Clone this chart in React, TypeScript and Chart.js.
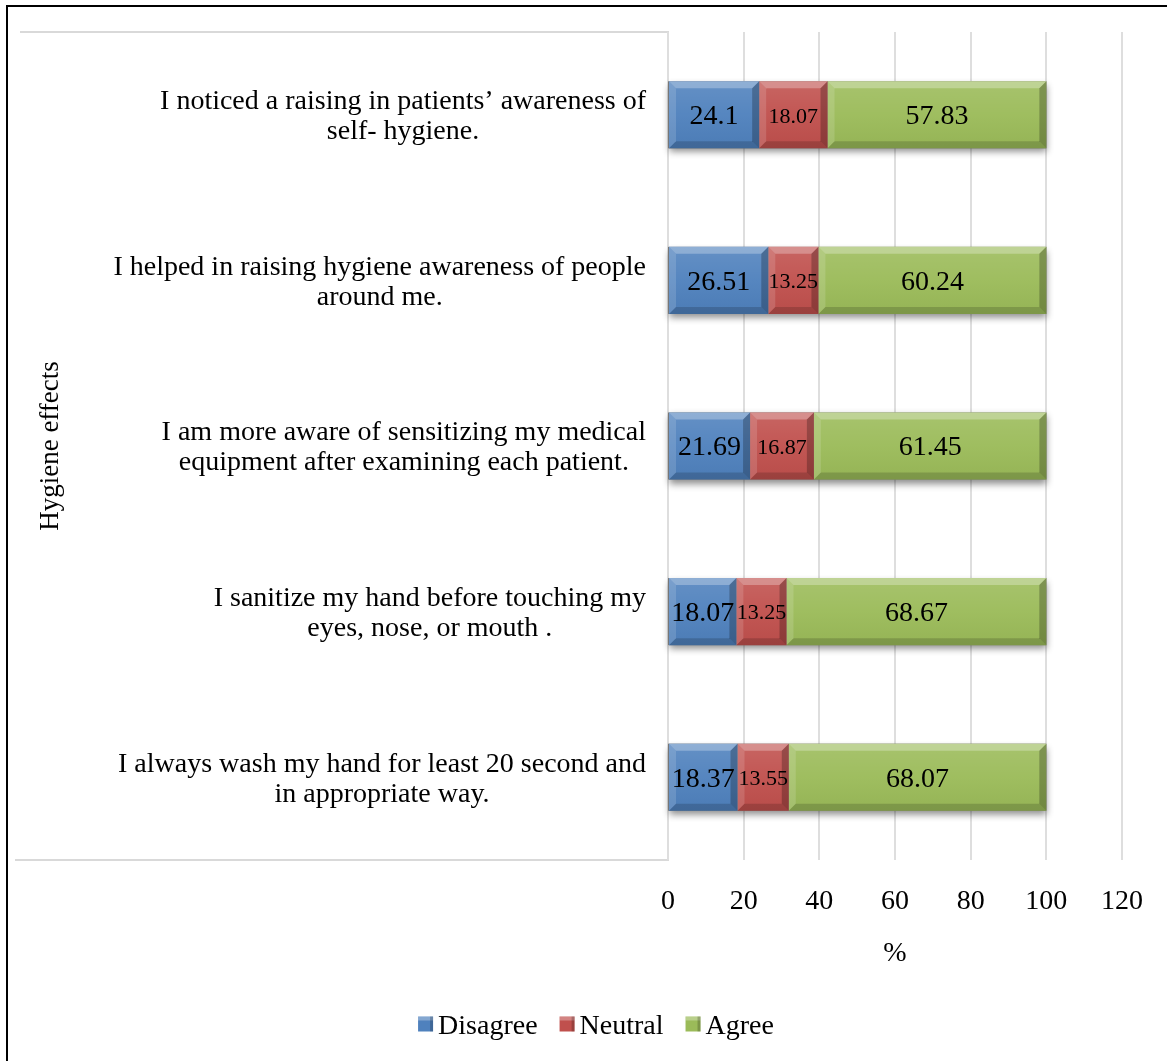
import React, { useEffect, useRef } from 'react';
import { Chart, registerables } from 'chart.js';

Chart.register(...registerables);

// ---------- DATA ----------
const categories: string[][] = [
  ['I noticed a raising in patients\u2019 awareness of', 'self- hygiene.'],
  ['I helped in raising hygiene awareness of people', 'around me.'],
  ['I am more aware of sensitizing my medical', 'equipment after examining each patient.'],
  ['I sanitize my hand before touching my', 'eyes, nose, or mouth .'],
  ['I always wash my hand for least 20 second and', 'in appropriate way.'],
];
const seriesNames = ['Disagree', 'Neutral', 'Agree'];
const disagree = [24.1, 26.51, 21.69, 18.07, 18.37];
const neutral = [18.07, 13.25, 16.87, 13.25, 13.55];
const agree = [57.83, 60.24, 61.45, 68.67, 68.07];
const xTicks = [0, 20, 40, 60, 80, 100, 120];
const yAxisTitle = 'Hygiene effects';
const xAxisTitle = '%';

// ---------- STYLE ----------
const COLORS = ['#4f81bd', '#c0504d', '#9bbb59'];
const VALUE_FONT_SIZES = [28, 22, 28];
const FONT = '"Liberation Serif", "Times New Roman", serif';
const W = 1167;
const H = 1061;

const decorPlugin = {
  id: 'decor',
  beforeDraw(chart: any) {
    const ctx = chart.ctx;
    const { top, bottom, left } = chart.chartArea;
    ctx.save();
    ctx.fillStyle = '#ffffff';
    ctx.fillRect(0, 0, chart.width, chart.height);
    // outer frame
    ctx.fillStyle = '#000000';
    ctx.fillRect(6, 5, chart.width - 6, 2);
    ctx.fillRect(6, 5, 2, chart.height - 5);
    // side wall panel
    ctx.strokeStyle = '#d9d9d9';
    ctx.lineWidth = 2;
    ctx.beginPath();
    ctx.moveTo(20, top);
    ctx.lineTo(left, top);
    ctx.lineTo(left, bottom);
    ctx.lineTo(15, bottom);
    ctx.stroke();
    ctx.restore();
  },
  beforeDatasetsDraw(chart: any) {
    const ctx = chart.ctx;
    const xs = chart.scales.x;
    const meta0 = chart.getDatasetMeta(0);
    ctx.save();
    meta0.data.forEach((el: any, i: number) => {
      const total = chart.data.datasets.reduce((s: number, d: any) => s + (d.data[i] as number), 0);
      const l = xs.getPixelForValue(0);
      const r = xs.getPixelForValue(total);
      const t = el.y - el.height / 2;
      ctx.shadowColor = 'rgba(0,0,0,0.45)';
      ctx.shadowBlur = 7;
      ctx.shadowOffsetX = 1;
      ctx.shadowOffsetY = 4;
      ctx.fillStyle = '#777';
      ctx.fillRect(l, t, r - l, el.height);
    });
    ctx.restore();
  },
  afterDatasetsDraw(chart: any) {
    const ctx = chart.ctx;
    const b = 7;
    chart.data.datasets.forEach((ds: any, di: number) => {
      const meta = chart.getDatasetMeta(di);
      meta.data.forEach((el: any, i: number) => {
        const L = Math.min(el.base, el.x);
        const R = Math.max(el.base, el.x);
        const T = el.y - el.height / 2;
        const B = el.y + el.height / 2;
        ctx.save();
        // soft face sheen
        const g = ctx.createLinearGradient(0, T, 0, B);
        g.addColorStop(0, 'rgba(255,255,255,0.12)');
        g.addColorStop(0.5, 'rgba(255,255,255,0.04)');
        g.addColorStop(1, 'rgba(0,0,0,0.04)');
        ctx.fillStyle = g;
        ctx.fillRect(L, T, R - L, B - T);
        // top bevel
        ctx.fillStyle = 'rgba(255,255,255,0.28)';
        ctx.beginPath();
        ctx.moveTo(L, T); ctx.lineTo(R, T); ctx.lineTo(R - b, T + b); ctx.lineTo(L + b, T + b);
        ctx.closePath(); ctx.fill();
        // left bevel
        ctx.fillStyle = 'rgba(255,255,255,0.14)';
        ctx.beginPath();
        ctx.moveTo(L, T); ctx.lineTo(L + b, T + b); ctx.lineTo(L + b, B - b); ctx.lineTo(L, B);
        ctx.closePath(); ctx.fill();
        // bottom bevel
        ctx.fillStyle = 'rgba(0,0,0,0.16)';
        ctx.beginPath();
        ctx.moveTo(L, B); ctx.lineTo(L + b, B - b); ctx.lineTo(R - b, B - b); ctx.lineTo(R, B);
        ctx.closePath(); ctx.fill();
        // right bevel
        ctx.fillStyle = 'rgba(0,0,0,0.24)';
        ctx.beginPath();
        ctx.moveTo(R, T); ctx.lineTo(R, B); ctx.lineTo(R - b, B - b); ctx.lineTo(R - b, T + b);
        ctx.closePath(); ctx.fill();
        // value label
        ctx.fillStyle = '#000';
        ctx.font = `${VALUE_FONT_SIZES[di]}px ${FONT}`;
        ctx.textAlign = 'center';
        ctx.textBaseline = 'middle';
        ctx.fillText(String(ds.data[i]), (L + R) / 2, el.y + 2);
        ctx.restore();
      });
    });
  },
  afterDraw(chart: any) {
    const ctx = chart.ctx;
    const xs = chart.scales.x;
    const ys = chart.scales.y;
    const { top, bottom, left, right } = chart.chartArea;
    ctx.save();
    ctx.fillStyle = '#000';
    // category labels
    ctx.font = `28px ${FONT}`;
    ctx.textAlign = 'center';
    ctx.textBaseline = 'middle';
    const labelRight = 646;
    const lineH = 30;
    (chart.data.labels as string[][]).forEach((lines, i) => {
      const yc = ys.getPixelForValue(i) + 2;
      const widest = Math.max(...lines.map((l) => ctx.measureText(l).width));
      const cx = labelRight - widest / 2;
      lines.forEach((l, j) => {
        ctx.fillText(l, cx, yc + (j - (lines.length - 1) / 2) * lineH);
      });
    });
    // y axis title
    ctx.save();
    ctx.font = `27px ${FONT}`;
    ctx.translate(51, (top + bottom) / 2);
    ctx.rotate(-Math.PI / 2);
    ctx.fillText(yAxisTitle, 0, 0);
    ctx.restore();
    // x tick labels
    ctx.font = `28px ${FONT}`;
    xs.ticks.forEach((t: any) => {
      ctx.fillText(String(t.value), xs.getPixelForValue(t.value), 902);
    });
    // x axis title
    ctx.fillText(xAxisTitle, (left + right) / 2, 954);
    // legend
    ctx.font = `28px ${FONT}`;
    ctx.textAlign = 'left';
    const box = 15;
    const gapBox = 5;
    const gapItem = 22;
    const widths = seriesNames.map((n) => box + gapBox + ctx.measureText(n).width);
    const total = widths.reduce((a, c) => a + c, 0) + gapItem * (seriesNames.length - 1);
    let x = 596 - total / 2;
    const ly = 1027;
    chart.data.datasets.forEach((ds: any, di: number) => {
      const c = ds.backgroundColor as string;
      const by = ly - box / 2 - 3;
      ctx.fillStyle = c;
      ctx.fillRect(x, by, box, box);
      ctx.fillStyle = 'rgba(255,255,255,0.3)';
      ctx.fillRect(x, by, box, 4);
      ctx.fillStyle = 'rgba(0,0,0,0.2)';
      ctx.fillRect(x + box - 3, by, 3, box);
      ctx.fillStyle = '#000';
      ctx.fillText(ds.label, x + box + gapBox, ly);
      x += widths[di] + gapItem;
    });
    ctx.restore();
  },
};

export default function App() {
  const canvasRef = useRef<HTMLCanvasElement | null>(null);

  useEffect(() => {
    if (!canvasRef.current) return;
    const values = [disagree, neutral, agree];
    const chart = new Chart(canvasRef.current, {
      type: 'bar',
      data: {
        labels: categories as any,
        datasets: seriesNames.map((name, i) => ({
          label: name,
          data: values[i],
          backgroundColor: COLORS[i],
          borderWidth: 0,
          barPercentage: 0.405,
          categoryPercentage: 1,
        })),
      },
      options: {
        indexAxis: 'y',
        animation: false,
        responsive: true,
        maintainAspectRatio: false,
        layout: { padding: { top: 32, right: 45, left: 0, bottom: 0 } },
        plugins: {
          legend: { display: false },
          tooltip: { enabled: false },
        },
        scales: {
          x: {
            stacked: true,
            min: 0,
            max: 120,
            afterBuildTicks: (s: any) => {
              s.ticks = xTicks.map((v) => ({ value: v }));
            },
            afterFit: (s: any) => {
              s.height = H - 860;
            },
            grid: { color: '#dedede', lineWidth: 2, drawTicks: false },
            border: { display: false },
            ticks: { display: false },
          },
          y: {
            stacked: true,
            afterFit: (s: any) => {
              s.width = 668;
            },
            grid: { display: false },
            border: { display: false },
            ticks: { display: false },
          },
        },
      },
      plugins: [decorPlugin],
    });
    return () => chart.destroy();
  }, []);

  return (
    <div style={{ position: 'absolute', left: 0, top: 0, width: W, height: H, background: '#fff' }}>
      <canvas ref={canvasRef} />
    </div>
  );
}
